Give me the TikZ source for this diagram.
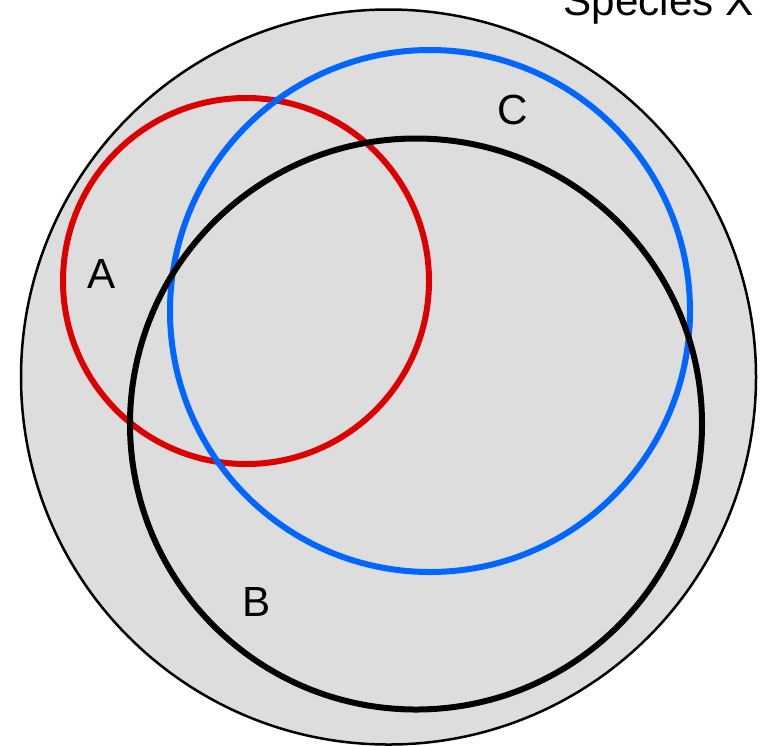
\documentclass[tikz,border=0pt]{standalone}
\usepackage{fontspec}
\setmainfont{Liberation Sans}
\usepackage{tikz}
\usetikzlibrary{positioning}

\definecolor{setRed}{RGB}{221, 0, 0}
\definecolor{setBlue}{RGB}{0, 102, 255}
\definecolor{universeGrey}{RGB}{221, 221, 221}

\begin{document}
\begin{tikzpicture}[
      x=0.02cm, y=-0.02cm,
      universe/.style={fill=universeGrey, draw=black, line width=0.05cm},
      setline/.style={line width=0.12cm},
      setlabel/.style={font=\fontsize{24}{28}\selectfont, inner sep=0pt},
    ]
      \clip (0,0) rectangle (760,745);
      \useasboundingbox (0,0) rectangle (760,745);

      % universe
      \draw[universe] (388.5,377) circle[radius=367.5];
      \node[setlabel, anchor=base east] (universeLabel) at (754,15) {Species X};

      % the three sets
      \draw[setline, setRed]  (246,281) circle[radius=183];
      \draw[setline, setBlue] (430,311) circle[x radius=260, y radius=261];
      \draw[setline, black]   (416,424) circle[x radius=286, y radius=285.5];

      % set labels
      \node[setlabel] (labelA) at (102,274) {A};
      \node[setlabel] (labelB) at (257,602) {B};
      \node[setlabel] (labelC) at (513,110) {C};
    \end{tikzpicture}
\end{document}
